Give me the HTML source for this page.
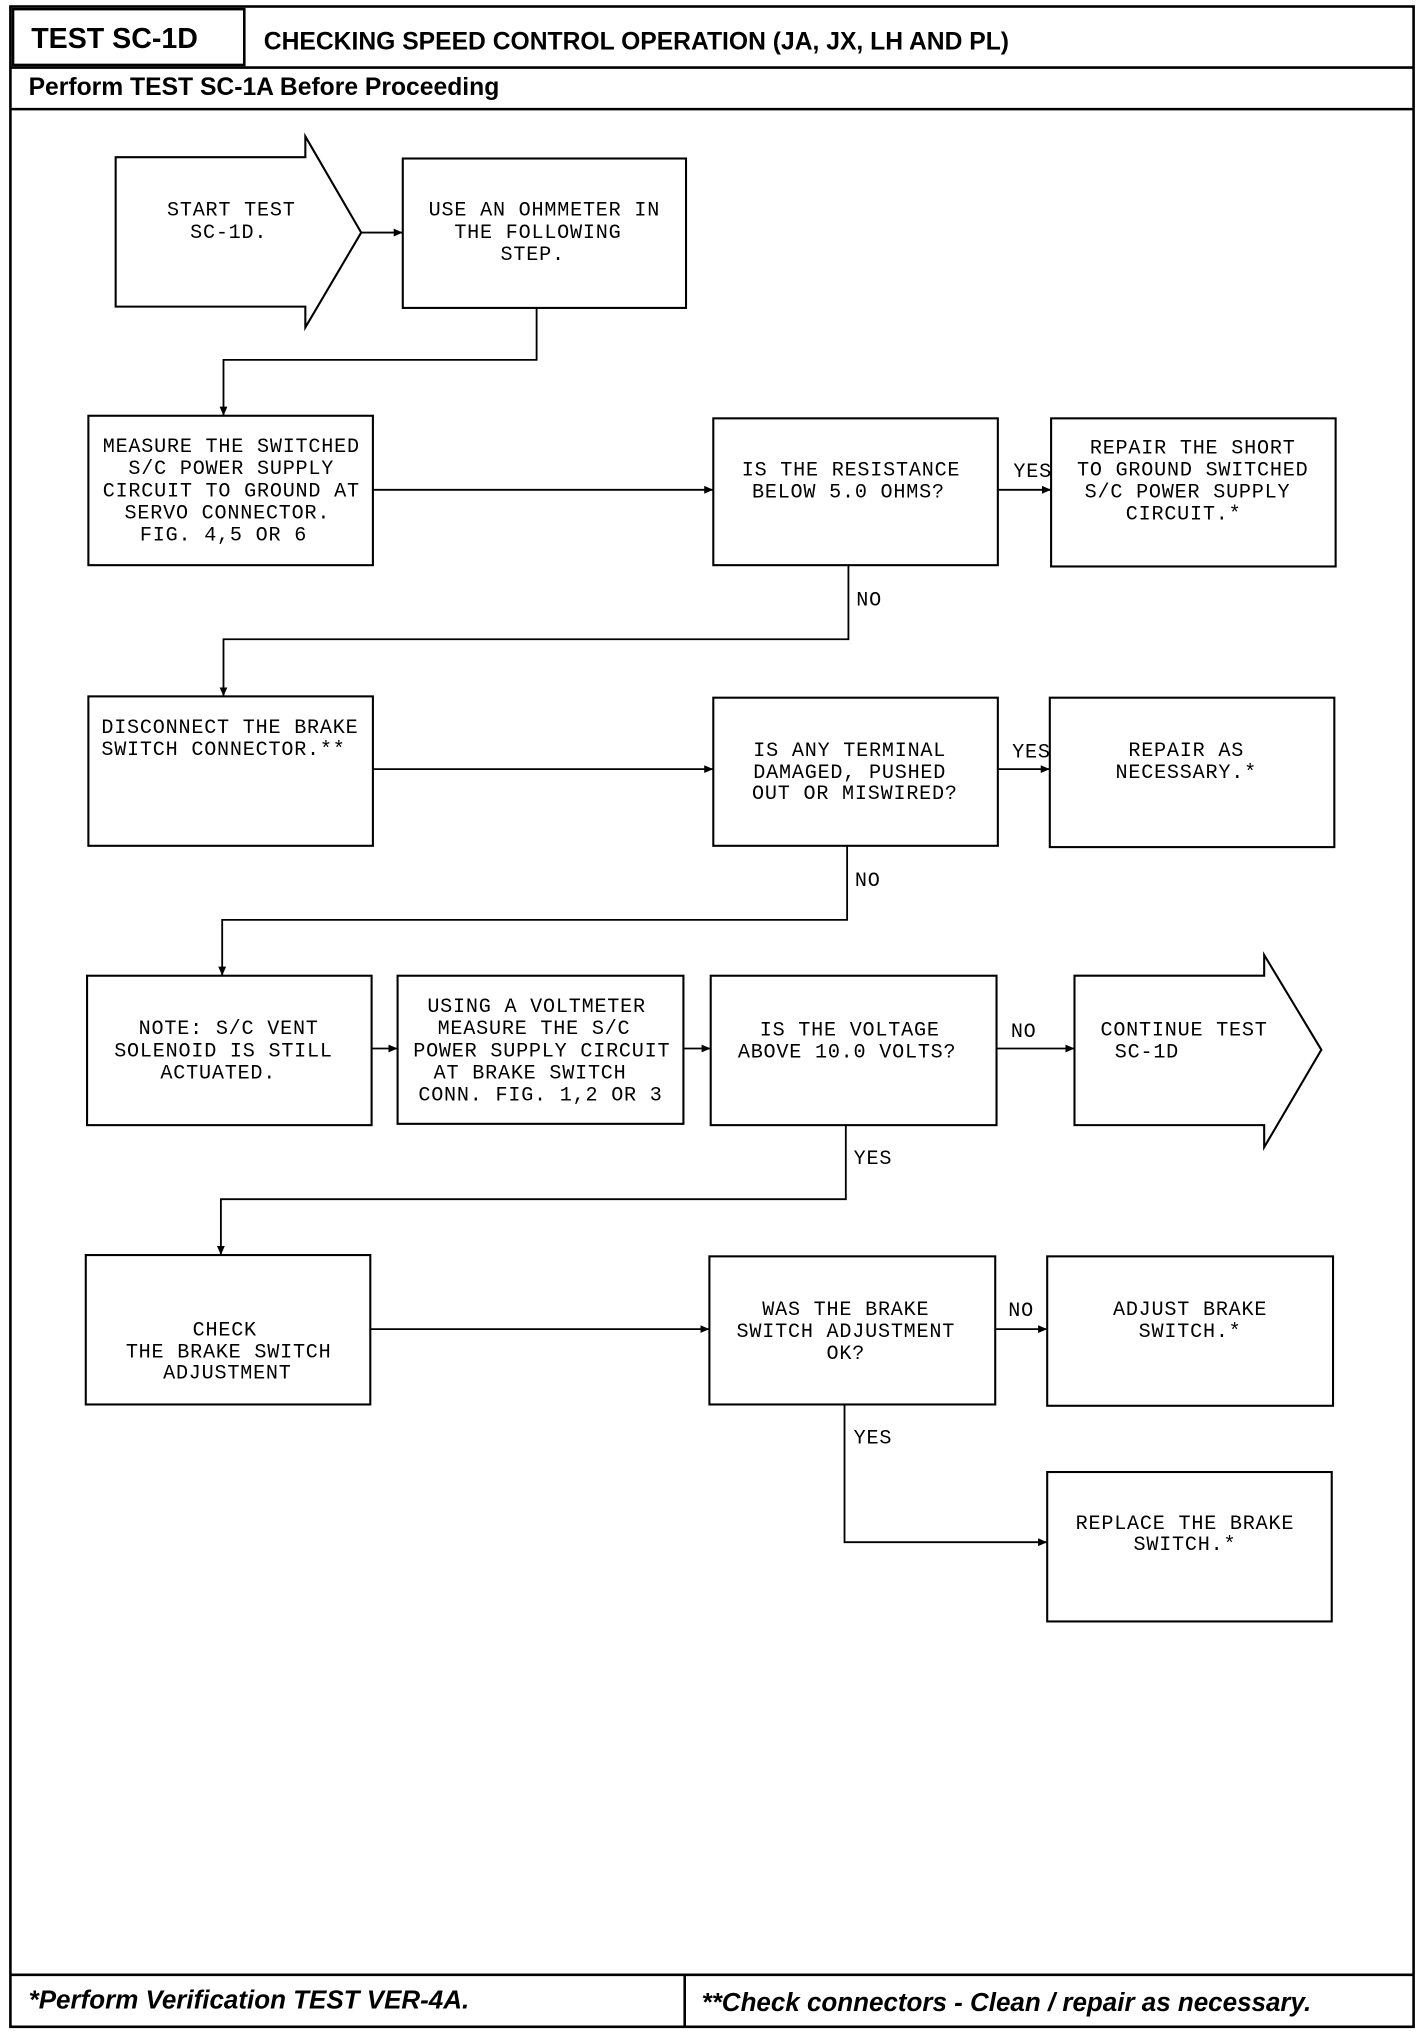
<!DOCTYPE html>
<html><head><meta charset="utf-8"><style>
html,body{margin:0;padding:0;background:#fff;}
svg{display:block;}
.b{fill:#fff;stroke:#000;stroke-width:1.6;}
.l{fill:none;stroke:#000;stroke-width:1.4;}
.t{font-family:"Liberation Mono",monospace;font-size:15.5px;letter-spacing:0.6px;text-anchor:middle;fill:#000;}
.tl{font-family:"Liberation Mono",monospace;font-size:15.5px;letter-spacing:0.6px;fill:#000;}
.h{font-family:"Liberation Sans",sans-serif;font-weight:bold;fill:#000;}
</style></head><body>
<svg width="1424" height="2032" viewBox="0 0 1096 1564" xmlns="http://www.w3.org/2000/svg">
<defs><marker id="a" markerWidth="8" markerHeight="8" refX="7" refY="4" orient="auto" markerUnits="userSpaceOnUse"><path d="M0,1 L7,4 L0,7 Z" fill="#000"/></marker></defs>
<!-- frame -->
<rect x="8" y="5" width="1080" height="1555" fill="none" stroke="#000" stroke-width="2"/>
<rect x="10" y="7" width="178" height="43" fill="none" stroke="#000" stroke-width="2"/>
<line x1="8" y1="52" x2="1088" y2="52" stroke="#000" stroke-width="2"/>
<line x1="8" y1="84" x2="1088" y2="84" stroke="#000" stroke-width="2"/>
<line x1="8" y1="1520" x2="1088" y2="1520" stroke="#000" stroke-width="2"/>
<line x1="527" y1="1520" x2="527" y2="1560" stroke="#000" stroke-width="2"/>
<text class="h" x="24" y="37" font-size="22">TEST SC-1D</text>
<text class="h" x="203" y="38" font-size="19">CHECKING SPEED CONTROL OPERATION (JA, JX, LH AND PL)</text>
<text class="h" x="22" y="73" font-size="19">Perform TEST SC-1A Before Proceeding</text>
<text class="h" x="22" y="1546" font-size="20" font-style="italic">*Perform Verification TEST VER-4A.</text>
<text class="h" x="540" y="1548" font-size="20" font-style="italic">**Check connectors - Clean / repair as necessary.</text>

<!-- start arrow -->
<path class="b" d="M89,121 L235,121 L235,105 L278,179 L235,252 L235,236 L89,236 Z"/>
<text class="t" x="178" y="166">START TEST</text><text class="t" x="176" y="183">SC-1D.</text>
<line class="l" x1="278" y1="179" x2="310" y2="179" marker-end="url(#a)"/>
<rect class="b" x="310" y="122" width="218" height="115"/>
<text class="t" x="419" y="166">USE AN OHMMETER IN</text><text class="t" x="414" y="183">THE FOLLOWING</text><text class="t" x="410" y="200">STEP.</text>
<polyline class="l" points="413,237 413,277 172,277 172,320" marker-end="url(#a)"/>

<!-- row 1 -->
<rect class="b" x="68" y="320" width="219" height="115"/>
<text class="t" x="178" y="348">MEASURE THE SWITCHED</text><text class="t" x="178" y="365">S/C POWER SUPPLY</text><text class="t" x="178" y="382">CIRCUIT TO GROUND AT</text><text class="t" x="175" y="399">SERVO CONNECTOR.</text><text class="t" x="172" y="416">FIG. 4,5 OR 6</text>
<line class="l" x1="287" y1="377" x2="549" y2="377" marker-end="url(#a)"/>
<rect class="b" x="549" y="322" width="219" height="113"/>
<text class="t" x="655" y="366">IS THE RESISTANCE</text><text class="t" x="653" y="383">BELOW 5.0 OHMS?</text>
<line class="l" x1="768" y1="377" x2="809" y2="377" marker-end="url(#a)"/>
<text class="tl" x="780" y="367">YES</text>
<rect class="b" x="809" y="322" width="219" height="114"/>
<text class="t" x="918" y="349">REPAIR THE SHORT</text><text class="t" x="918" y="366">TO GROUND SWITCHED</text><text class="t" x="914" y="383">S/C POWER SUPPLY</text><text class="t" x="911" y="400">CIRCUIT.*</text>
<polyline class="l" points="653,435 653,492 172,492 172,536" marker-end="url(#a)"/>
<text class="tl" x="659" y="466">NO</text>

<!-- row 2 -->
<rect class="b" x="68" y="536" width="219" height="115"/>
<text class="tl" x="78" y="564">DISCONNECT THE BRAKE</text><text class="tl" x="78" y="581">SWITCH CONNECTOR.**</text>
<line class="l" x1="287" y1="592" x2="549" y2="592" marker-end="url(#a)"/>
<rect class="b" x="549" y="537" width="219" height="114"/>
<text class="t" x="654" y="582">IS ANY TERMINAL</text><text class="t" x="654" y="599">DAMAGED, PUSHED</text><text class="t" x="658" y="615">OUT OR MISWIRED?</text>
<line class="l" x1="768" y1="592" x2="808" y2="592" marker-end="url(#a)"/>
<text class="tl" x="779" y="583">YES</text>
<rect class="b" x="808" y="537" width="219" height="115"/>
<text class="t" x="913" y="582">REPAIR AS</text><text class="t" x="913" y="599">NECESSARY.*</text>
<polyline class="l" points="652,651 652,708 171,708 171,751" marker-end="url(#a)"/>
<text class="tl" x="658" y="682">NO</text>

<!-- row 3 -->
<rect class="b" x="67" y="751" width="219" height="115"/>
<text class="t" x="176" y="796">NOTE: S/C VENT</text><text class="t" x="172" y="813">SOLENOID IS STILL</text><text class="t" x="168" y="830">ACTUATED.</text>
<line class="l" x1="286" y1="807" x2="306" y2="807" marker-end="url(#a)"/>
<rect class="b" x="306" y="751" width="220" height="114"/>
<text class="t" x="413" y="779">USING A VOLTMETER</text><text class="t" x="411" y="796">MEASURE THE S/C</text><text class="t" x="417" y="813">POWER SUPPLY CIRCUIT</text><text class="t" x="408" y="830">AT BRAKE SWITCH</text><text class="t" x="416" y="847">CONN.  FIG. 1,2 OR 3</text>
<line class="l" x1="526" y1="807" x2="547" y2="807" marker-end="url(#a)"/>
<rect class="b" x="547" y="751" width="220" height="115"/>
<text class="t" x="654" y="797">IS THE VOLTAGE</text><text class="t" x="652" y="814">ABOVE 10.0 VOLTS?</text>
<line class="l" x1="767" y1="807" x2="827" y2="807" marker-end="url(#a)"/>
<text class="tl" x="778" y="798">NO</text>
<path class="b" d="M827,751 L973,751 L973,735 L1017,808 L973,883 L973,866 L827,866 Z"/>
<text class="tl" x="847" y="797">CONTINUE TEST</text><text class="tl" x="858" y="814">SC-1D</text>
<polyline class="l" points="651,866 651,923 170,923 170,966" marker-end="url(#a)"/>
<text class="tl" x="657" y="896">YES</text>

<!-- row 4 -->
<rect class="b" x="66" y="966" width="219" height="115"/>
<text class="t" x="173" y="1028">CHECK</text><text class="t" x="176" y="1045">THE BRAKE SWITCH</text><text class="t" x="175" y="1061">ADJUSTMENT</text>
<line class="l" x1="285" y1="1023" x2="546" y2="1023" marker-end="url(#a)"/>
<rect class="b" x="546" y="967" width="220" height="114"/>
<text class="t" x="651" y="1012">WAS THE BRAKE</text><text class="t" x="651" y="1029">SWITCH ADJUSTMENT</text><text class="t" x="651" y="1046">OK?</text>
<line class="l" x1="766" y1="1023" x2="806" y2="1023" marker-end="url(#a)"/>
<text class="tl" x="776" y="1013">NO</text>
<rect class="b" x="806" y="967" width="220" height="115"/>
<text class="t" x="916" y="1012">ADJUST BRAKE</text><text class="t" x="916" y="1029">SWITCH.*</text>
<polyline class="l" points="650,1081 650,1187 806,1187" marker-end="url(#a)"/>
<text class="tl" x="657" y="1111">YES</text>
<rect class="b" x="806" y="1133" width="219" height="115"/>
<text class="t" x="912" y="1177">REPLACE THE BRAKE</text><text class="t" x="912" y="1193">SWITCH.*</text>
</svg>
</body></html>
